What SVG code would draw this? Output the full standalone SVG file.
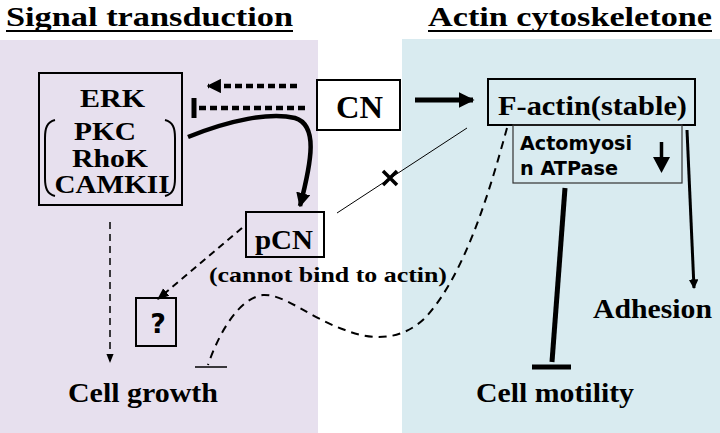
<svg xmlns="http://www.w3.org/2000/svg" width="720" height="433" viewBox="0 0 720 433">
<defs>
<style>
.serif{font-family:"Liberation Serif","Times New Roman",serif;font-weight:bold;fill:#000}
.sans{font-family:"DejaVu Sans","Liberation Sans",sans-serif;font-weight:bold;fill:#000}
.box{fill:none;stroke:#000;stroke-width:2}
.boxw{fill:#fff;stroke:#000;stroke-width:2}
</style>
<marker id="ah" viewBox="0 0 10 10" refX="9" refY="5" markerWidth="3.2" markerHeight="3.2" orient="auto" markerUnits="strokeWidth"><path d="M0,0 L10,5 L0,10 z" fill="#000"/></marker>
<marker id="ahs" viewBox="0 0 10 10" refX="9" refY="5" markerWidth="6" markerHeight="6" orient="auto" markerUnits="strokeWidth"><path d="M0,1 L10,5 L0,9 z" fill="#000"/></marker>
</defs>
<rect x="0" y="0" width="720" height="433" fill="#fff"/>
<rect x="0" y="40" width="318" height="393" fill="#e7e0ee"/>
<rect x="402" y="39" width="318" height="394" fill="#d9ebf0"/>
<g id="titles">
<text class="serif" x="6" y="26" font-size="28" textLength="287" lengthAdjust="spacingAndGlyphs">Signal transduction</text>
<line x1="6" y1="31" x2="293" y2="31" stroke="#000" stroke-width="2"/>
<text class="serif" x="428" y="26" font-size="28" textLength="284" lengthAdjust="spacingAndGlyphs">Actin cytoskeletone</text>
<line x1="428" y1="31" x2="712" y2="31" stroke="#000" stroke-width="2"/>
</g>
<g id="connectors" fill="none" stroke="#000">
<line x1="297" y1="86" x2="208" y2="86" stroke-width="4.5" stroke-dasharray="7,4" marker-end="url(#ah)"/>
<line x1="305" y1="108" x2="196" y2="108" stroke-width="4.5" stroke-dasharray="7,4"/>
<line x1="194" y1="98" x2="194" y2="118" stroke-width="5"/>
<path d="M188,137 C230,120 270,112 295,118 C318,125 312,160 300,206" stroke-width="4.5" marker-end="url(#ah)"/>
<line x1="415" y1="100" x2="473" y2="100" stroke-width="5" marker-end="url(#ah)"/>
<line x1="110" y1="222" x2="110" y2="362" stroke-width="1.5" stroke-dasharray="7,5" marker-end="url(#ahs)"/>
<line x1="242" y1="228" x2="158" y2="299" stroke-width="2" stroke-dasharray="7,5" marker-end="url(#ahs)"/>
<path d="M507,128 C490,190 465,275 425,318 C400,342 370,340 345,330 C310,318 285,294 263,295 C240,298 220,330 208,365" stroke-width="2" stroke-dasharray="8,6"/>
<line x1="195" y1="367" x2="227" y2="367" stroke-width="1.5"/>
<line x1="467" y1="128" x2="337" y2="213" stroke-width="1"/>
<path d="M383,171 L397,185 M397,171 L383,185" stroke-width="3.5"/>
<line x1="565" y1="188" x2="552" y2="362" stroke-width="5"/>
<line x1="532" y1="367" x2="571" y2="367" stroke-width="5"/>
<line x1="687" y1="130" x2="694" y2="288" stroke-width="3" marker-end="url(#ah)"/>
</g>
<g id="erk">
<rect class="box" x="39" y="73" width="143" height="132"/>
<text class="serif" x="112.5" y="107" font-size="25" text-anchor="middle" textLength="65" lengthAdjust="spacingAndGlyphs">ERK</text>
<text class="serif" x="105" y="140" font-size="25" text-anchor="middle" textLength="62" lengthAdjust="spacingAndGlyphs">PKC</text>
<text class="serif" x="110" y="167" font-size="25" text-anchor="middle" textLength="76" lengthAdjust="spacingAndGlyphs">RhoK</text>
<text class="serif" x="112" y="193" font-size="25" text-anchor="middle" textLength="115" lengthAdjust="spacingAndGlyphs">CAMKII</text>
<path d="M55,120 C47,122 45,128 45,138 L45,178 C45,188 47,194 55,196" fill="none" stroke="#000" stroke-width="2"/>
<path d="M165,120 C173,122 175,128 175,138 L175,178 C175,188 173,194 165,196" fill="none" stroke="#000" stroke-width="2"/>
</g>
<g id="cn">
<rect class="boxw" x="317" y="80" width="83" height="50"/>
<text class="serif" x="359.5" y="118" font-size="32" text-anchor="middle" textLength="47" lengthAdjust="spacingAndGlyphs">CN</text>
</g>
<g id="pcn">
<rect class="box" x="246" y="212" width="78" height="45"/>
<text class="serif" x="284" y="249" font-size="27" text-anchor="middle" textLength="58" lengthAdjust="spacingAndGlyphs">pCN</text>
<text class="serif" x="209" y="282" font-size="21" textLength="238" lengthAdjust="spacingAndGlyphs">(cannot bind to actin)</text>
</g>
<g id="unknown">
<rect class="box" x="136" y="298" width="40" height="48" stroke-width="1.5"/>
<text class="sans" x="158" y="333" font-size="27" text-anchor="middle">?</text>
</g>
<g id="cellgrowth">
<text class="serif" x="68" y="402" font-size="27" textLength="150" lengthAdjust="spacingAndGlyphs">Cell growth</text>
</g>
<g id="factin">
<rect class="box" x="488" y="79" width="207" height="46"/>
<text class="serif" x="498" y="115" font-size="28" textLength="189" lengthAdjust="spacingAndGlyphs">F-actin(stable)</text>
</g>
<g id="actomyosin">
<rect x="513" y="125" width="169" height="58" fill="none" stroke="#333" stroke-width="1.2"/>
<text class="sans" x="520" y="150" font-size="19" textLength="112" lengthAdjust="spacingAndGlyphs">Actomyosi</text>
<text class="sans" x="520" y="175" font-size="19" textLength="98" lengthAdjust="spacingAndGlyphs">n ATPase</text>
<line x1="661.5" y1="142" x2="661.5" y2="160" stroke="#000" stroke-width="3.5"/>
<path d="M653,157 L670,157 L661.5,173 z" fill="#000"/>
</g>
<g id="adhesion">
<text class="serif" x="593" y="318" font-size="27" textLength="119" lengthAdjust="spacingAndGlyphs">Adhesion</text>
</g>
<g id="cellmotility">
<text class="serif" x="476" y="402" font-size="27" textLength="158" lengthAdjust="spacingAndGlyphs">Cell motility</text>
</g>
</svg>
